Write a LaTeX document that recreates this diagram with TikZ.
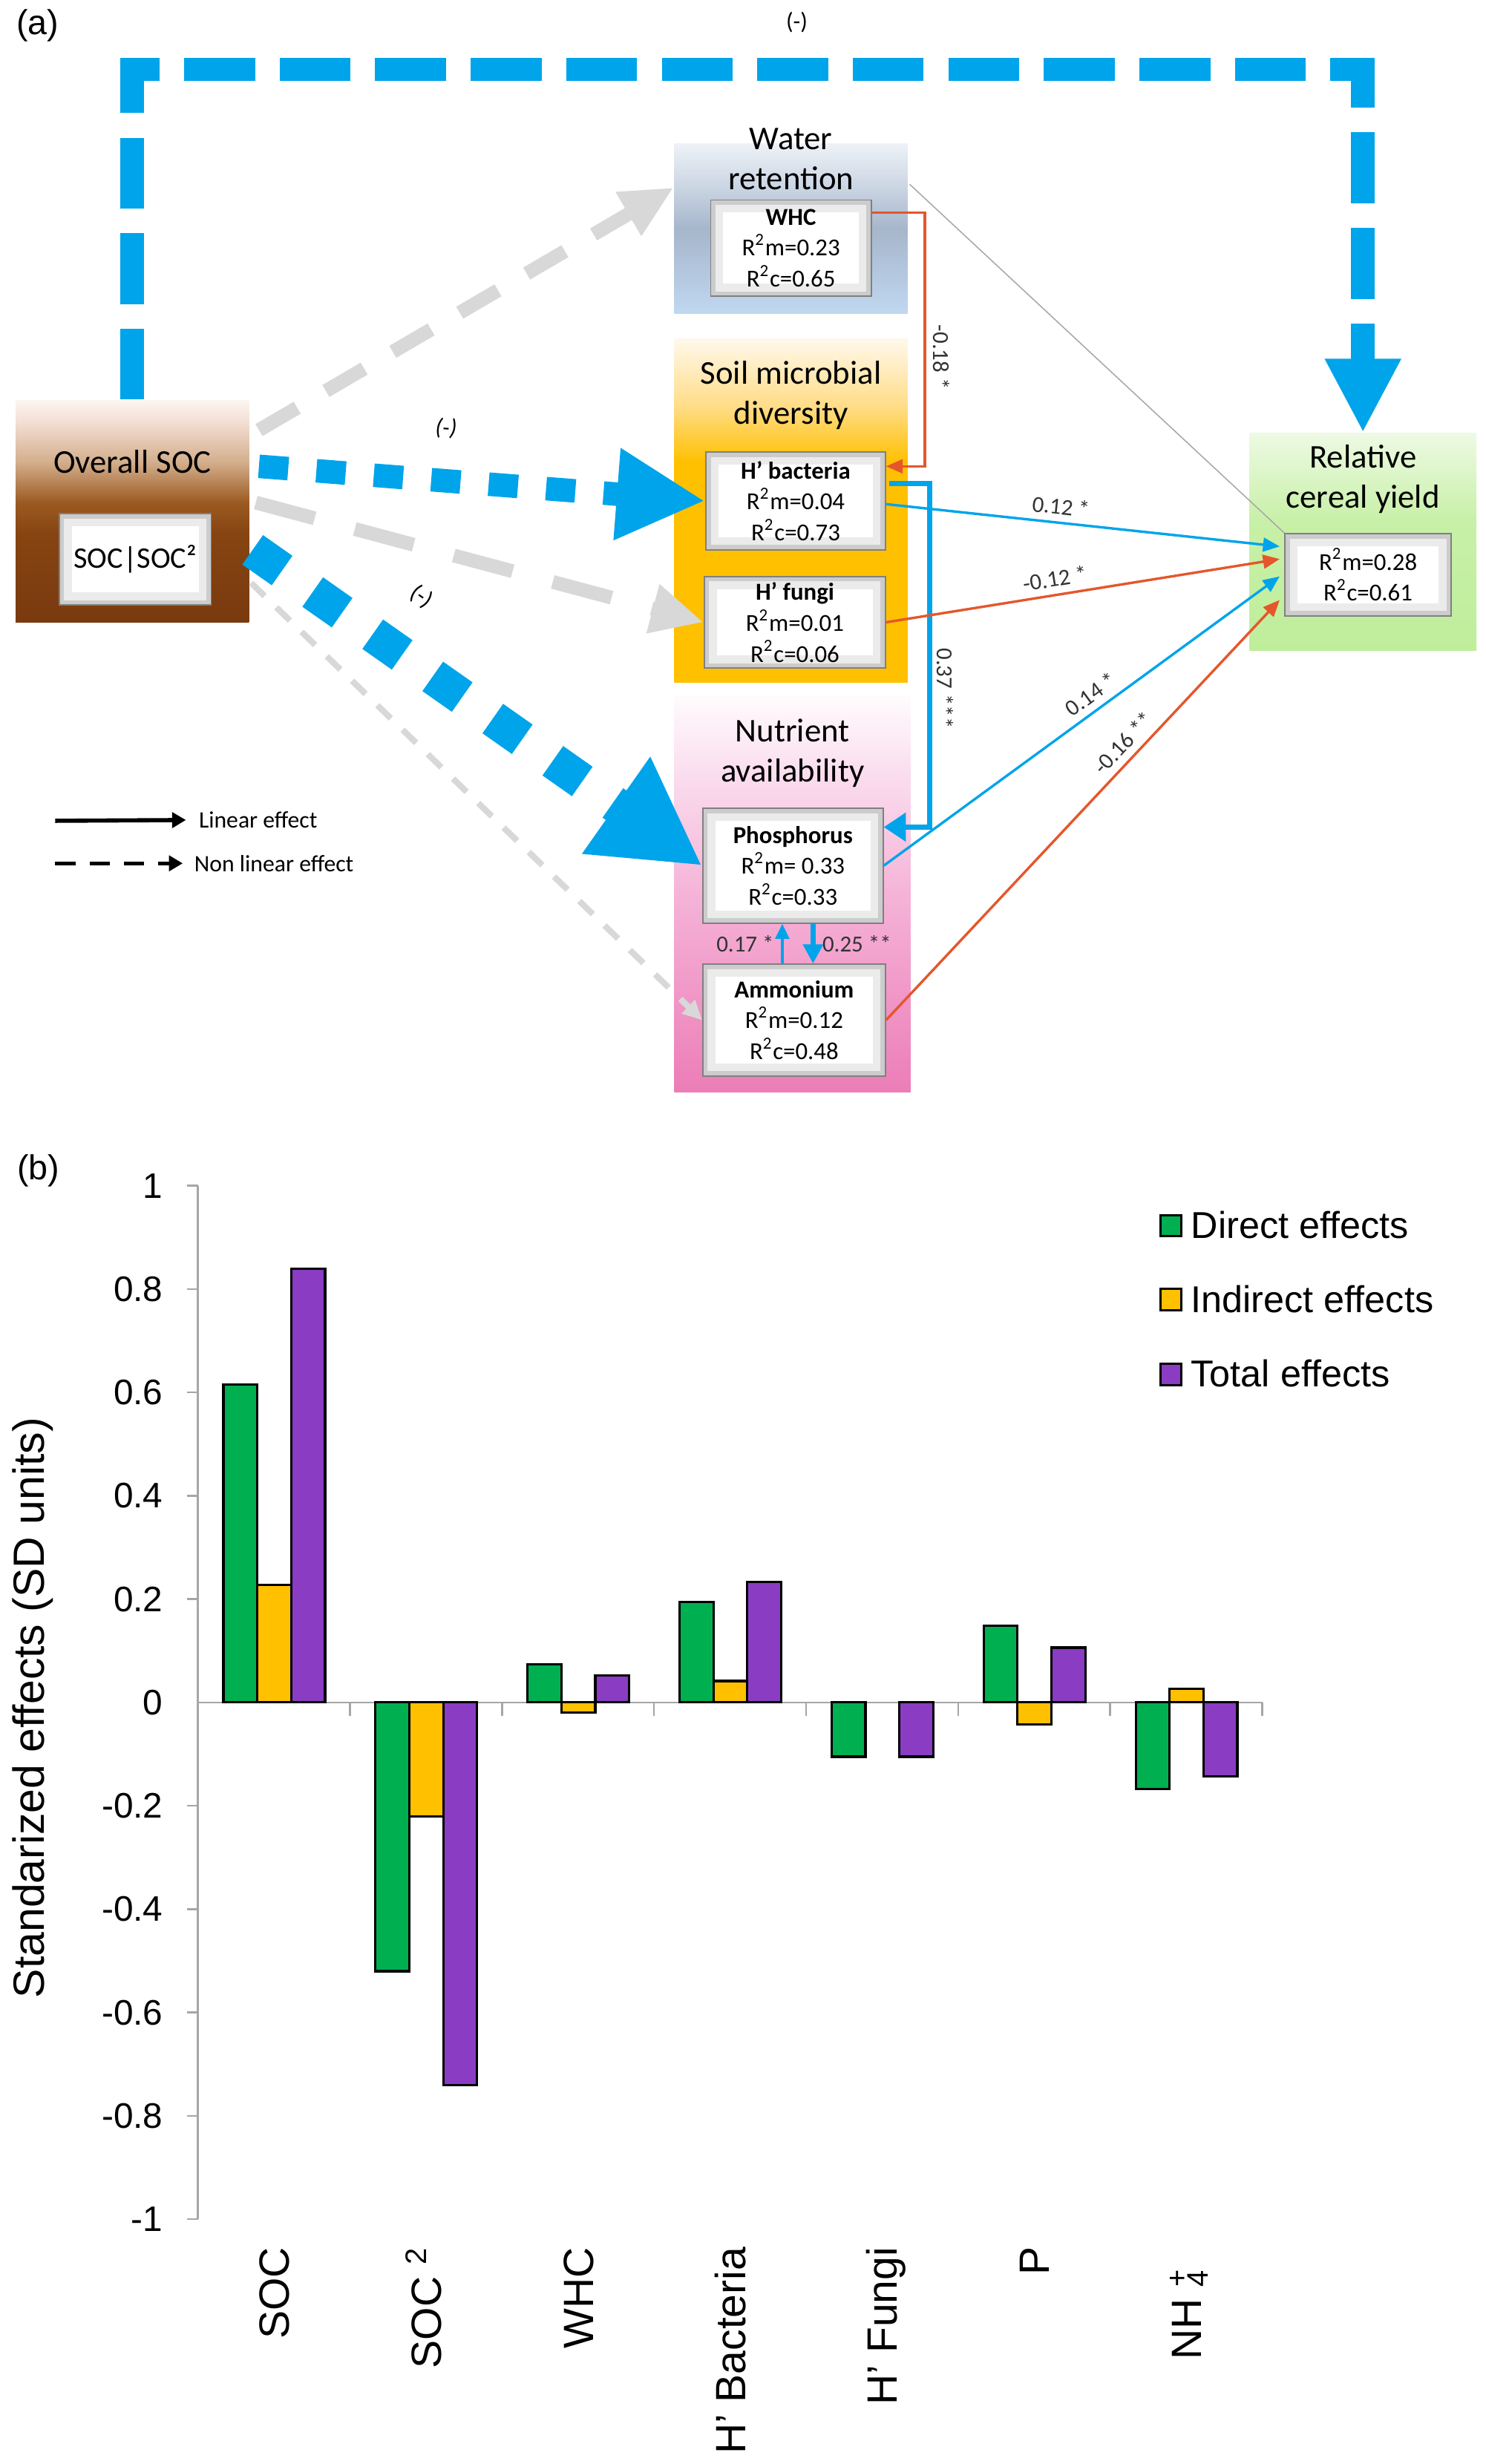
\documentclass[tikz,border=0pt]{standalone}
\usepackage{fontspec}
\setmainfont{Liberation Sans}
\newfontfamily\carlito{Carlito}
\usepackage{tikz}
\usetikzlibrary{positioning}
\usetikzlibrary{arrows.meta}
\usetikzlibrary{calc}
\usetikzlibrary{fit}
\usepackage{xcolor}

\definecolor{semblue}{HTML}{00A4EA}
\definecolor{semred}{HTML}{E5562B}
\definecolor{semgrey}{HTML}{D8D8D8}
\definecolor{axisgrey}{HTML}{A6A6A6}
\definecolor{labgrey}{HTML}{333333}
\definecolor{dirgreen}{HTML}{00B050}
\definecolor{indyellow}{HTML}{FFC000}
\definecolor{totpurple}{HTML}{8A3CC2}

\definecolor{socA}{HTML}{7A3A0E}
\definecolor{socB}{HTML}{864412}
\definecolor{socC}{HTML}{9C5A22}
\definecolor{socD}{HTML}{D3AE8C}
\definecolor{socE}{HTML}{F3DED3}
\definecolor{socF}{HTML}{FCF5F1}
\definecolor{watA}{HTML}{C0D8F0}
\definecolor{watB}{HTML}{B0C3DA}
\definecolor{watC}{HTML}{A6B6CB}
\definecolor{watD}{HTML}{CAD5E3}
\definecolor{watE}{HTML}{EEF2F7}
\definecolor{micA}{HTML}{FFC000}
\definecolor{micB}{HTML}{FFDC85}
\definecolor{micC}{HTML}{FFF8EC}
\definecolor{nutA}{HTML}{EC7DB7}
\definecolor{nutB}{HTML}{F5B3D8}
\definecolor{nutC}{HTML}{FADDEE}
\definecolor{nutD}{HTML}{FFFBFD}
\definecolor{yldA}{HTML}{BFEE9B}
\definecolor{yldB}{HTML}{C8F0A8}
\definecolor{yldC}{HTML}{EEFAE4}

\pgfdeclareverticalshading{socshade}{100bp}{color(0bp)=(socA); color(25bp)=(socA); color(45bp)=(socB); color(52bp)=(socC); color(61bp)=(socD); color(70bp)=(socE); color(75bp)=(socF); color(100bp)=(socF)}
\pgfdeclareverticalshading{watshade}{100bp}{color(0bp)=(watA); color(25bp)=(watA); color(40bp)=(watB); color(50bp)=(watC); color(62bp)=(watD); color(75bp)=(watE); color(100bp)=(watE)}
\pgfdeclareverticalshading{micshade}{100bp}{color(0bp)=(micA); color(25bp)=(micA); color(57bp)=(micA); color(65bp)=(micB); color(75bp)=(micC); color(100bp)=(micC)}
\pgfdeclareverticalshading{nutshade}{100bp}{color(0bp)=(nutA); color(25bp)=(nutA); color(50bp)=(nutB); color(65bp)=(nutC); color(75bp)=(nutD); color(100bp)=(nutD)}
\pgfdeclareverticalshading{yldshade}{100bp}{color(0bp)=(yldA); color(25bp)=(yldA); color(55bp)=(yldB); color(75bp)=(yldC); color(100bp)=(yldC)}

\begin{document}
\begin{tikzpicture}[x=0.2mm, y=-0.2mm,
  groupbox/.style={shade, inner sep=0pt},
  innerbox/.style={draw=black!50, line width=0.4pt, fill=white, inner sep=0pt, align=center,
    font=\carlito\fontsize{8.8}{11.2}\selectfont,
    path picture={
      \draw[black!8, line width=9pt] (path picture bounding box.south west) rectangle (path picture bounding box.north east);
      \draw[black!20, line width=3.5pt] (path picture bounding box.south west) rectangle (path picture bounding box.north east);}},
  grouptitle/.style={font=\carlito\fontsize{12}{14.5}\selectfont, align=center, inner sep=0pt},
  pathlabel/.style={font=\carlito\fontsize{8.3}{10}\selectfont, text=labgrey, inner sep=2.5pt},
  signlabel/.style={font=\carlito\fontsize{8.5}{10}\selectfont, text=black, inner sep=0pt},
  bigdash/.style={semblue, line width=8.5pt, dash pattern=on 25.6pt off 8.9pt, line join=miter, -{Triangle[length=26.7pt,width=25.6pt]}},
  bluedashA/.style={semblue, line width=8.5pt, dash pattern=on 10.6pt off 10.2pt, -{Triangle[length=32pt,width=31pt]}},
  bluedashB/.style={semblue, line width=13pt, dash pattern=on 13pt off 13.5pt, -{Triangle[length=38pt,width=40pt]}},
  greydashA/.style={semgrey, line width=5pt, dash pattern=on 16pt off 12pt, -{Triangle[length=19pt,width=17pt]}},
  greydashB/.style={semgrey, line width=5pt, dash pattern=on 22pt off 15pt, -{Triangle[length=19pt,width=17pt]}},
  greydashC/.style={semgrey, line width=2.2pt, dash pattern=on 6.8pt off 5.9pt, -{Triangle[length=7pt,width=6.5pt]}},
  thinblue/.style={semblue, line width=0.9pt, -{Triangle[length=6pt,width=5pt]}},
  thinred/.style={semred, line width=0.9pt, -{Triangle[length=6pt,width=5pt]}},
  midblue/.style={semblue, line width=2pt, -{Triangle[length=8pt,width=10pt]}},
  keytext/.style={font=\carlito\fontsize{8.5}{10}\selectfont, anchor=west, inner sep=4.5pt},
  keysolid/.style={black, line width=1.5pt, -{Triangle[length=5pt,width=5.5pt]}},
  keydash/.style={black, line width=1.3pt, dash pattern=on 7.4pt off 5pt, -{Triangle[length=5pt,width=5.5pt]}},
  bar/.style={draw=black, line width=0.85pt},
  axisline/.style={axisgrey, line width=0.7pt},
  ticklab/.style={anchor=east, inner sep=0pt, font=\fontsize{12.8}{14}\selectfont},
  catlab/.style={rotate=90, anchor=east, inner sep=0pt, text height=11pt, text depth=0pt, font=\fontsize{15.3}{17}\selectfont},
  legbox/.style={draw=black, line width=0.8pt, minimum width=2.7mm, minimum height=2.7mm, inner sep=0pt},
  legtext/.style={anchor=west, inner sep=0pt, font=\fontsize{13.5}{15}\selectfont}]

\useasboundingbox (0,0) rectangle (943,1564);
\fill[white] (0,0) rectangle (943,1564);


\begin{scope}
{
\node[font=\fontsize{12.5}{14}\selectfont] (pa) at (24,16) {(a)};

% group boxes
\node[groupbox, shading=socshade, fit={(10,254) (158,395)}] (soc) {};
\node[groupbox, shading=watshade, fit={(428,91) (576,199)}] (wat) {};
\node[groupbox, shading=micshade, fit={(428,215) (576,433)}] (mic) {};
\node[groupbox, shading=nutshade, fit={(428,442) (578,693)}] (nut) {};
\node[groupbox, shading=yldshade, fit={(793,275) (937,413)}] (yld) {};

\node[grouptitle] (soct) at (84,293) {Overall SOC};
\node[grouptitle] (watt) at (502,101) {Water\\retention};
\node[grouptitle] (mict) at (502,251) {Soil microbial\\diversity};
\node[grouptitle] (nutt) at (503,478) {Nutrient\\availability};
\node[grouptitle] (yldt) at (865,304) {Relative\\cereal yield};

% inner boxes
\node[innerbox, minimum width=19.28mm, minimum height=11.6mm, font=\carlito\fontsize{10.8}{12}\selectfont] (socin) at (85.8,355) {SOC|SOC²};
\node[innerbox, minimum width=20.4mm, minimum height=12.2mm] (whc) at (502,157.5) {\textbf{WHC}\\R\textsuperscript{2}m=0.23\\R\textsuperscript{2}c=0.65};
\node[innerbox, minimum width=22.8mm, minimum height=12.4mm] (bac) at (505,318) {\textbf{H’ bacteria}\\R\textsuperscript{2}m=0.04\\R\textsuperscript{2}c=0.73};
\node[innerbox, minimum width=23mm, minimum height=11.6mm] (fun) at (504.5,395) {\textbf{H’ fungi}\\R\textsuperscript{2}m=0.01\\R\textsuperscript{2}c=0.06};
\node[innerbox, minimum width=22.9mm, minimum height=14.6mm] (pho) at (503.25,549.5) {\textbf{Phosphorus}\\R\textsuperscript{2}m= 0.33\\R\textsuperscript{2}c=0.33};
\node[innerbox, minimum width=23.2mm, minimum height=14.2mm] (amm) at (504,647.5) {\textbf{Ammonium}\\R\textsuperscript{2}m=0.12\\R\textsuperscript{2}c=0.48};
\node[innerbox, minimum width=21.1mm, minimum height=10.46mm] (ry) at (868.25,364.85) {R\textsuperscript{2}m=0.28\\R\textsuperscript{2}c=0.61};


% non linear paths from SOC
\coordinate (topy) at (0,44);
\draw[bigdash] (soc.north) -- (soc.north |- topy) -- (yld.north |- topy) node[signlabel, pos=0.54, yshift=17pt] (s1) {(-)} -- (yld.north);

\draw[greydashA] ($(soc.east)+(6,-51.5)$) -- ($(wat.west)+(0,-26)$);
\draw[greydashB] ($(soc.east)+(4,-5.5)$) -- (fun.west);
\draw[greydashC] ($(soc.east)+(1,45.5)$) -- (amm.west);

\draw[bluedashA] ($(soc.east)+(6,-28.5)$) -- (bac.west) node[signlabel, pos=0.41, sloped, above=11pt] (s2) {\itshape(-)};
\draw[bluedashB] ($(soc.east)+(2,24.5)$) -- (pho.west) node[signlabel, pos=0.30, sloped, above=11pt] (s3) {(-)};


% linear paths
\draw[black!35, line width=0.4pt] ($(wat.east)+(1,-28)$) -- (ry.north west);

\draw[thinred] ($(whc.east)+(0,-22.5)$) -| ($(bac.east)+(24.6,-22)$) node[pathlabel, pos=0.785, rotate=-90, anchor=south] (l018) {-0.18 *} -- ($(bac.east)+(0,-22)$);
\draw[midblue] ($(bac.east)+(2,-11)$) -| ($(pho.east)+(29.2,-24.5)$) node[pathlabel, pos=0.798, rotate=-90, anchor=south, inner sep=1.5pt] (l037) {0.37 ***} -- ($(pho.east)+(0,-24.5)$);

\draw[thinblue] ($(bac.east)+(0,2)$) -- ($(ry.west)+(-3,-18)$) node[pathlabel, pos=0.44, sloped, above] (l012) {0.12 *};
\draw[thinred] (fun.east) -- ($(ry.west)+(-3,-10)$) node[pathlabel, pos=0.435, sloped, above] (lm012) {-0.12 *};
\draw[thinblue] (pho.east) -- ($(ry.west)+(-3,1)$) node[pathlabel, pos=0.547, sloped, above] (l014) {0.14 *};
\draw[thinred] (amm.east) -- ($(ry.west)+(-3,16)$) node[pathlabel, pos=0.633, sloped, above] (lm016) {-0.16 **};

\draw[semblue, line width=1.1pt, -{Triangle[length=5.5pt,width=5pt]}] ($(amm.north)+(-7.5,0)$) coordinate (au) -- (au |- pho.south) node[pathlabel, midway, left] (l017) {0.17 *};
\draw[semblue, line width=1.8pt, -{Triangle[length=7pt,width=7pt]}] ($(pho.south)+(12.75,0)$) coordinate (pd) -- (pd |- amm.north) node[pathlabel, midway, right] (l025) {0.25 **};


% key
\coordinate (ksa) at (35,521);
\coordinate (ksb) at (35,548);
\node[keytext] (klin) at (118,520.5) {Linear effect};
\node[keytext, inner sep=4pt] (knon) at (116,548) {Non linear effect};
\draw[keysolid] (ksa) -- (klin.west);
\draw[keydash] (ksb) -- (knon.west);
}
\end{scope}


\begin{scope}
{
\node[font=\fontsize{12.5}{14}\selectfont] (pb) at (24.3,743) {(b)};

\node[rotate=90, inner sep=0pt, font=\fontsize{15.8}{17}\selectfont] (ylab) at (21,1084) {Standarized effects (SD units)};

\begin{scope}[shift={(125.6,1080.6)}, yscale=-328]
% axes
\draw[axisline] (0,1) -- (0,-1);
\draw[axisline] (0,0) -- (675.5,0);
\draw[axisline] (-7,1)--(0,1) (-7,0.8)--(0,0.8) (-7,0.6)--(0,0.6) (-7,0.4)--(0,0.4) (-7,0.2)--(0,0.2)
  (-7,-0.2)--(0,-0.2) (-7,-0.4)--(0,-0.4) (-7,-0.6)--(0,-0.6) (-7,-0.8)--(0,-0.8) (-7,-1)--(0,-1);
\draw[axisline] (96.5,0)--(96.5,-0.026) (193,0)--(193,-0.026) (289.5,0)--(289.5,-0.026) (386,0)--(386,-0.026)
  (482.5,0)--(482.5,-0.026) (579,0)--(579,-0.026) (675.5,0)--(675.5,-0.026);

% bars
\draw[bar, fill=dirgreen] (16.2,0) rectangle (37.7,0.615);
\draw[bar, fill=indyellow] (37.7,0) rectangle (59.2,0.227);
\draw[bar, fill=totpurple] (59.2,0) rectangle (80.7,0.839);

\draw[bar, fill=dirgreen] (112.7,0) rectangle (134.2,-0.520);
\draw[bar, fill=indyellow] (134.2,0) rectangle (155.7,-0.221);
\draw[bar, fill=totpurple] (155.7,0) rectangle (177.2,-0.740);

\draw[bar, fill=dirgreen] (209.2,0) rectangle (230.7,0.0735);
\draw[bar, fill=indyellow] (230.7,0) rectangle (252.2,-0.0195);
\draw[bar, fill=totpurple] (252.2,0) rectangle (273.7,0.052);

\draw[bar, fill=dirgreen] (305.7,0) rectangle (327.2,0.194);
\draw[bar, fill=indyellow] (327.2,0) rectangle (348.7,0.0415);
\draw[bar, fill=totpurple] (348.7,0) rectangle (370.2,0.2335);

\draw[bar, fill=dirgreen] (402.2,0) rectangle (423.7,-0.105);
\draw[bar, fill=totpurple] (445.2,0) rectangle (466.7,-0.105);

\draw[bar, fill=dirgreen] (498.7,0) rectangle (520.2,0.149);
\draw[bar, fill=indyellow] (520.2,0) rectangle (541.7,-0.043);
\draw[bar, fill=totpurple] (541.7,0) rectangle (563.2,0.106);

\draw[bar, fill=dirgreen] (595.2,0) rectangle (616.7,-0.167);
\draw[bar, fill=indyellow] (616.7,0) rectangle (638.2,0.027);
\draw[bar, fill=totpurple] (638.2,0) rectangle (659.7,-0.143);

% tick labels
\node[ticklab] (y10) at (-21.9,1) {1};
\node[ticklab] (y08) at (-21.9,0.8) {0.8};
\node[ticklab] (y06) at (-21.9,0.6) {0.6};
\node[ticklab] (y04) at (-21.9,0.4) {0.4};
\node[ticklab] (y02) at (-21.9,0.2) {0.2};
\node[ticklab] (y00) at (-21.9,0) {0};
\node[ticklab] (ym02) at (-21.9,-0.2) {-0.2};
\node[ticklab] (ym04) at (-21.9,-0.4) {-0.4};
\node[ticklab] (ym06) at (-21.9,-0.6) {-0.6};
\node[ticklab] (ym08) at (-21.9,-0.8) {-0.8};
\node[ticklab] (ym10) at (-21.9,-1) {-1};
\end{scope}

% categories
\node[catlab] (csoc) at (173.8,1426) {SOC};
\node[catlab] (csoc2) at (270.3,1426) {SOC \textsuperscript{2}};
\node[catlab] (cwhc) at (366.8,1426) {WHC};
\node[catlab] (cbac) at (463.3,1426) {H' Bacteria};
\node[catlab] (cfun) at (559.8,1426) {H' Fungi};
\node[catlab] (cp) at (656.3,1426) {P};
\node[catlab] (cnh) at (752.8,1440) {NH\ \rlap{\textsuperscript{+}}\textsubscript{4}};

% legend
\node[legbox, fill=dirgreen] (lgg) at (743.2,778) {};
\node[legbox, fill=indyellow] (lgy) at (743.2,825) {};
\node[legbox, fill=totpurple] (lgp) at (743.2,872.5) {};
\node[legtext] (lggt) at (755.6,777.7) {Direct effects};
\node[legtext] (lgyt) at (755.6,824.8) {Indirect effects};
\node[legtext] (lgpt) at (755.6,871.5) {Total effects};
}
\end{scope}

\end{tikzpicture}
\end{document}
